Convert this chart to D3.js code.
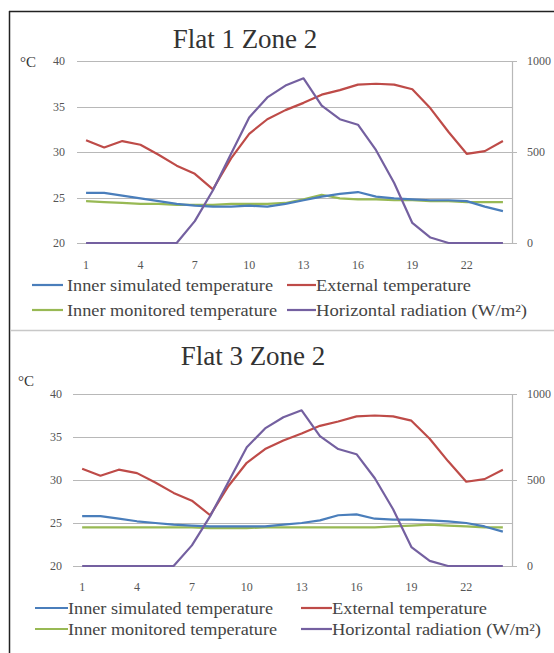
<!DOCTYPE html>
<html>
<head>
<meta charset="utf-8">
<script src="https://cdn.jsdelivr.net/npm/d3@7"></script>
<style>
  body { margin: 0; background: #fff; }
</style>
</head>
<body>
<div id="chart"></div>
<script>
// hours of the day (category axis)
const hours = [1, 2, 3, 4, 5, 6, 7, 8, 9, 10, 11, 12, 13, 14, 15, 16, 17, 18, 19, 20, 21, 22, 23, 24];
const hourTicks = [1, 4, 7, 10, 13, 16, 19, 22];
const tempTicks = [20, 25, 30, 35, 40];
const radTicks = [0, 500, 1000];

// same weather day for both flats
const externalTemp = [31.3, 30.5, 31.2, 30.8, 29.7, 28.5, 27.6, 25.9, 29.3, 32.0, 33.6, 34.6,
                      35.4, 36.3, 36.8, 37.4, 37.5, 37.4, 36.9, 34.8, 32.2, 29.8, 30.1, 31.2];
const radiation = [0, 0, 0, 0, 0, 0, 120, 290, 490, 690, 800, 865,
                   905, 755, 680, 650, 510, 330, 110, 30, 0, 0, 0, 0];

// Flat 1 Zone 2
const simFlat1 = [25.5, 25.5, 25.2, 24.9, 24.6, 24.3, 24.1, 24.0, 24.0, 24.1, 24.0, 24.3,
                  24.7, 25.1, 25.4, 25.6, 25.1, 24.9, 24.8, 24.7, 24.7, 24.6, 24.0, 23.5];
const monFlat1 = [24.6, 24.5, 24.4, 24.3, 24.3, 24.2, 24.2, 24.2, 24.3, 24.3, 24.3, 24.4,
                  24.8, 25.3, 24.9, 24.8, 24.8, 24.7, 24.7, 24.6, 24.6, 24.5, 24.5, 24.5];

// Flat 3 Zone 2
const simFlat3 = [25.8, 25.8, 25.5, 25.2, 25.0, 24.8, 24.7, 24.6, 24.6, 24.6, 24.6, 24.8,
                  25.0, 25.3, 25.9, 26.0, 25.5, 25.4, 25.4, 25.3, 25.2, 25.0, 24.6, 24.0];
const monFlat3 = [24.5, 24.5, 24.5, 24.5, 24.5, 24.5, 24.5, 24.4, 24.4, 24.4, 24.5, 24.5,
                  24.5, 24.5, 24.5, 24.5, 24.5, 24.6, 24.7, 24.8, 24.7, 24.6, 24.5, 24.5];

const colors = {
  sim: "#4a7ebb",
  ext: "#be4b48",
  mon: "#98b954",
  rad: "#7460a0"
};

const serif = "'Liberation Serif', 'Times New Roman', serif";
const width = 554, height = 653;

const svg = d3.select("#chart").append("svg")
  .attr("width", width)
  .attr("height", height)
  .attr("font-family", serif);

// outer frame + separator
svg.append("line").attr("x1", 9.5).attr("x2", 9.5).attr("y1", 11).attr("y2", height)
  .attr("stroke", "#222").attr("stroke-width", 1.5);
svg.append("line").attr("x1", 9).attr("x2", width).attr("y1", 11.5).attr("y2", 11.5)
  .attr("stroke", "#222").attr("stroke-width", 1.5);
svg.append("line").attr("x1", 10).attr("x2", width).attr("y1", 330.5).attr("y2", 330.5)
  .attr("stroke", "#c8c8c8").attr("stroke-width", 1.5);

const panels = [
  {
    title: "Flat 1 Zone 2", titleX: 245, titleY: 48,
    left: 77, right: 512, top: 61, bottom: 243,
    unitX: 20, unitY: 67, tickX: 65, radX: 527, xLabelY: 265,
    sim: simFlat1, mon: monFlat1,
    legY: [285, 310], legLine: [[32, 63], [287, 316]], legText: [67, 316],
    legW: [[206, 210], [155, 211]]
  },
  {
    title: "Flat 3 Zone 2", titleX: 253, titleY: 365,
    left: 73, right: 512, top: 394, bottom: 566,
    unitX: 18, unitY: 386, tickX: 62, radX: 527, xLabelY: 587,
    sim: simFlat3, mon: monFlat3,
    legY: [608, 629], legLine: [[35, 68], [301, 332]], legText: [68, 332],
    legW: [[205, 209], [155, 209]]
  }
];

panels.forEach(function (p) {
  const g = svg.append("g");

  const x = d3.scaleBand().domain(hours).range([p.left, p.right]);
  const cx = function (h) { return x(h) + x.bandwidth() / 2; };
  const yT = d3.scaleLinear().domain([20, 40]).range([p.bottom, p.top]);
  const yR = d3.scaleLinear().domain([0, 1000]).range([p.bottom, p.top]);

  g.append("text")
    .attr("x", p.titleX).attr("y", p.titleY)
    .attr("text-anchor", "middle")
    .attr("font-size", 27)
    .attr("fill", "#333")
    .text(p.title);

  // gridlines
  g.selectAll(".grid").data(tempTicks).enter().append("line")
    .attr("x1", p.left).attr("x2", p.right)
    .attr("y1", function (d) { return Math.round(yT(d)) + 0.5; })
    .attr("y2", function (d) { return Math.round(yT(d)) + 0.5; })
    .attr("stroke", "#b8b8b8").attr("stroke-width", 1.2);

  // right axis line + ticks
  g.append("line")
    .attr("x1", p.right + 0.5).attr("x2", p.right + 0.5)
    .attr("y1", p.top).attr("y2", p.bottom)
    .attr("stroke", "#b8b8b8").attr("stroke-width", 1.2);
  g.selectAll(".rtick").data(radTicks).enter().append("line")
    .attr("x1", p.right).attr("x2", p.right + 5)
    .attr("y1", function (d) { return Math.round(yR(d)) + 0.5; })
    .attr("y2", function (d) { return Math.round(yR(d)) + 0.5; })
    .attr("stroke", "#b8b8b8");

  // left tick labels
  g.selectAll(".ylab").data(tempTicks).enter().append("text")
    .attr("x", p.tickX).attr("y", function (d) { return yT(d); })
    .attr("dy", "0.35em")
    .attr("text-anchor", "end")
    .attr("font-size", 12)
    .attr("fill", "#555")
    .text(function (d) { return d; });

  g.append("text")
    .attr("x", p.unitX).attr("y", p.unitY)
    .attr("font-size", 15)
    .attr("fill", "#333")
    .text("°C");

  // right tick labels
  g.selectAll(".rlab").data(radTicks).enter().append("text")
    .attr("x", p.radX).attr("y", function (d) { return yR(d); })
    .attr("dy", "0.35em")
    .attr("font-size", 12)
    .attr("fill", "#555")
    .text(function (d) { return d; });

  // x labels
  g.selectAll(".xlab").data(hourTicks).enter().append("text")
    .attr("x", function (d) { return cx(d); })
    .attr("y", p.xLabelY)
    .attr("dy", "0.35em")
    .attr("text-anchor", "middle")
    .attr("font-size", 12)
    .attr("fill", "#555")
    .text(function (d) { return d; });

  const tempLine = d3.line()
    .x(function (d, i) { return cx(hours[i]); })
    .y(function (d) { return yT(d); });
  const radLine = d3.line()
    .x(function (d, i) { return cx(hours[i]); })
    .y(function (d) { return yR(d); });

  const series = [
    { d: p.mon, line: tempLine, c: colors.mon },
    { d: p.sim, line: tempLine, c: colors.sim },
    { d: externalTemp, line: tempLine, c: colors.ext },
    { d: radiation, line: radLine, c: colors.rad }
  ];
  series.forEach(function (s) {
    g.append("path")
      .attr("d", s.line(s.d))
      .attr("fill", "none")
      .attr("stroke", s.c)
      .attr("stroke-width", 2.2)
      .attr("stroke-linejoin", "round");
  });

  // legend
  const legend = [
    { label: "Inner simulated temperature", c: colors.sim, col: 0, row: 0 },
    { label: "External temperature", c: colors.ext, col: 1, row: 0 },
    { label: "Inner monitored temperature", c: colors.mon, col: 0, row: 1 },
    { label: "Horizontal radiation (W/m²)", c: colors.rad, col: 1, row: 1 }
  ];
  legend.forEach(function (l) {
    const ly = p.legY[l.row];
    g.append("line")
      .attr("x1", p.legLine[l.col][0]).attr("x2", p.legLine[l.col][1])
      .attr("y1", ly).attr("y2", ly)
      .attr("stroke", l.c).attr("stroke-width", 2.2);
    g.append("text")
      .attr("x", p.legText[l.col]).attr("y", ly)
      .attr("dy", "0.35em")
      .attr("font-size", 16)
      .attr("fill", "#444")
      .attr("textLength", p.legW[l.col][l.row])
      .attr("lengthAdjust", "spacingAndGlyphs")
      .text(l.label);
  });
});
</script>
</body>
</html>
